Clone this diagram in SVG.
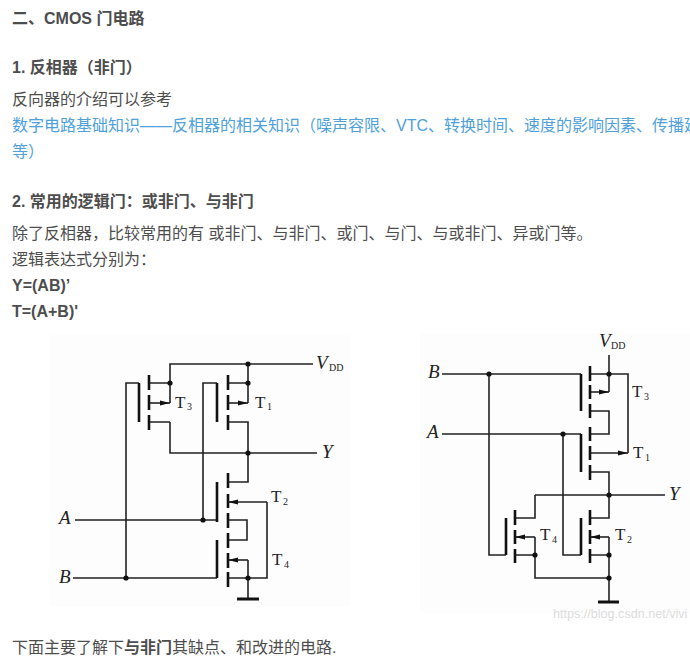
<svg xmlns="http://www.w3.org/2000/svg" width="690" height="671" viewBox="0 0 690 671">
<style>
text{font-family:"Liberation Sans","Noto Sans CJK SC",sans-serif;font-size:16px;fill:#4d4d4d}
.b{font-weight:700}
.l{fill:#4ea1db}
.w{fill:none;stroke:#222;stroke-width:1.6}
.c{fill:none;stroke:#111;stroke-width:2.6}
.d{fill:#111}
.s{font-family:"Liberation Serif",serif;fill:#222}
.i{font-style:italic;font-size:19px}
.t{font-size:17px}
.u{font-size:10px}
.m{fill:#dcdcdc;font-size:12.6px}
</style>
<defs>
<marker id="a" markerWidth="11" markerHeight="6" refX="10" refY="3" orient="auto" markerUnits="userSpaceOnUse"><path d="M0 .5L10 3L0 5.5Z" fill="#111"/></marker>
</defs>
<rect width="690" height="671" fill="#fff"/>
<rect x="50" y="335" width="300" height="272" fill="#fdfdfd"/>
<rect x="420" y="333" width="270" height="280" fill="#fdfdfd"/>
<g id="text">
<text class="b" x="12" y="24">二、CMOS 门电路</text>
<text class="b" x="12" y="73">1. 反相器（非门）</text>
<text x="12" y="105">反向器的介绍可以参考</text>
<text class="l" x="12" y="131">数字电路基础知识——反相器的相关知识（噪声容限、VTC、转换时间、速度的影响因素、传播延</text>
<text class="l" x="12" y="157">等）</text>
<text class="b" x="12" y="207">2. 常用的逻辑门：或非门、与非门</text>
<text x="12" y="239">除了反相器，比较常用的有 或非门、与非门、或门、与门、与或非门、异或门等。</text>
<text x="12" y="265">逻辑表达式分别为：</text>
<text class="b" x="12" y="291">Y=(AB)’</text>
<text class="b" x="12" y="317">T=(A+B)'</text>
<text x="12" y="653">下面主要了解下<tspan class="b">与非门</tspan>其缺点、和改进的电路.</text>
</g>
<g id="connectors">
<path class="w" d="M170 403V364H313M248 364V403M170 422V453H317M149 383H170M228 383H248M149 422H170M228 422H248V482H228"/>
<path class="w" d="M139 383H126V578M217 383H203V520M75 520H217M73 578H217"/>
<path class="w" marker-end="url(#a)" d="M149 403H170"/>
<path class="w" marker-end="url(#a)" d="M228 403H248"/>
<path class="w" marker-end="url(#a)" d="M267 502H228"/>
<path class="w" marker-end="url(#a)" d="M248 560H228"/>
<path class="w" d="M267 502V578H228M228 520H247V540H228M248 560V599"/>
<path d="M237 599H259" fill="none" stroke="#111" stroke-width="3"/>
<path class="w" d="M609 355V392M442 374H581M590 374H628V453M442 434H581M590 411H609V434H590M590 472H609V518H590M535 495H665M535 495V518H515"/>
<path class="w" d="M489 374V555H506M563 434V555H581M515 555H535M590 555H609M535 537V578H609M609 537V602"/>
<path class="w" marker-end="url(#a)" d="M590 392H609"/>
<path class="w" marker-end="url(#a)" d="M590 453H628"/>
<path class="w" marker-end="url(#a)" d="M535 537H515"/>
<path class="w" marker-end="url(#a)" d="M609 537H590"/>
<path d="M598 602H619" fill="none" stroke="#111" stroke-width="3"/>
</g>
<g id="T3-left"><path class="c" d="M149 375V390M149 395V410M149 415V430M139 383V422"/><circle class="d" cx="170" cy="383" r="2.6"/><text class="s t" x="175" y="408">T</text><text class="s u" x="187" y="410">3</text></g>
<g id="T1-left"><path class="c" d="M228 375V390M228 395V410M228 415V430M217 383V422"/><circle class="d" cx="248" cy="383" r="2.6"/><text class="s t" x="255" y="408">T</text><text class="s u" x="267" y="410">1</text></g>
<g id="T2-left"><path class="c" d="M228 473V488M228 494V508M228 513V528M217 482V522"/><text class="s t" x="271" y="502">T</text><text class="s u" x="283" y="505">2</text></g>
<g id="T4-left"><path class="c" d="M228 533V548M228 553V568M228 572V587M217 540V578"/><text class="s t" x="272" y="565">T</text><text class="s u" x="284" y="568">4</text></g>
<g id="labels-left">
<circle class="d" cx="248" cy="364" r="2.6"/><circle class="d" cx="248" cy="453" r="2.6"/><circle class="d" cx="203" cy="520" r="2.6"/><circle class="d" cx="126" cy="578" r="2.6"/><circle class="d" cx="248" cy="578" r="2.6"/>
<text class="s i" x="316" y="369">V</text><text class="s u" x="329" y="371">DD</text><text class="s i" x="322" y="458">Y</text><text class="s i" x="59" y="524">A</text><text class="s i" x="59" y="583">B</text>
</g>
<g id="T3-right"><path class="c" d="M590 366V381M590 385V399M590 404V418M581 374V411"/><text class="s t" x="632" y="397">T</text><text class="s u" x="644" y="400">3</text></g>
<g id="T1-right"><path class="c" d="M590 427V441M590 446V460M590 465V480M581 434V472"/><text class="s t" x="633" y="458">T</text><text class="s u" x="645" y="461">1</text></g>
<g id="T4-right"><path class="c" d="M515 510V525M515 530V544M515 549V563M506 518V555"/><text class="s t" x="540" y="540">T</text><text class="s u" x="552" y="543">4</text></g>
<g id="T2-right"><path class="c" d="M590 510V525M590 530V544M590 549V563M581 518V555"/><text class="s t" x="615" y="540">T</text><text class="s u" x="627" y="543">2</text></g>
<g id="labels-right">
<circle class="d" cx="609" cy="374" r="2.6"/><circle class="d" cx="489" cy="374" r="2.6"/><circle class="d" cx="563" cy="434" r="2.6"/><circle class="d" cx="609" cy="495" r="2.6"/><circle class="d" cx="535" cy="555" r="2.6"/><circle class="d" cx="609" cy="555" r="2.6"/><circle class="d" cx="609" cy="578" r="2.6"/>
<text class="s i" x="599" y="347">V</text><text class="s u" x="611" y="349">DD</text><text class="s i" x="428" y="378">B</text><text class="s i" x="427" y="438">A</text><text class="s i" x="669" y="500">Y</text>
<text class="m" x="553" y="618">https://blog.csdn.net/vivi</text>
</g>
</svg>
